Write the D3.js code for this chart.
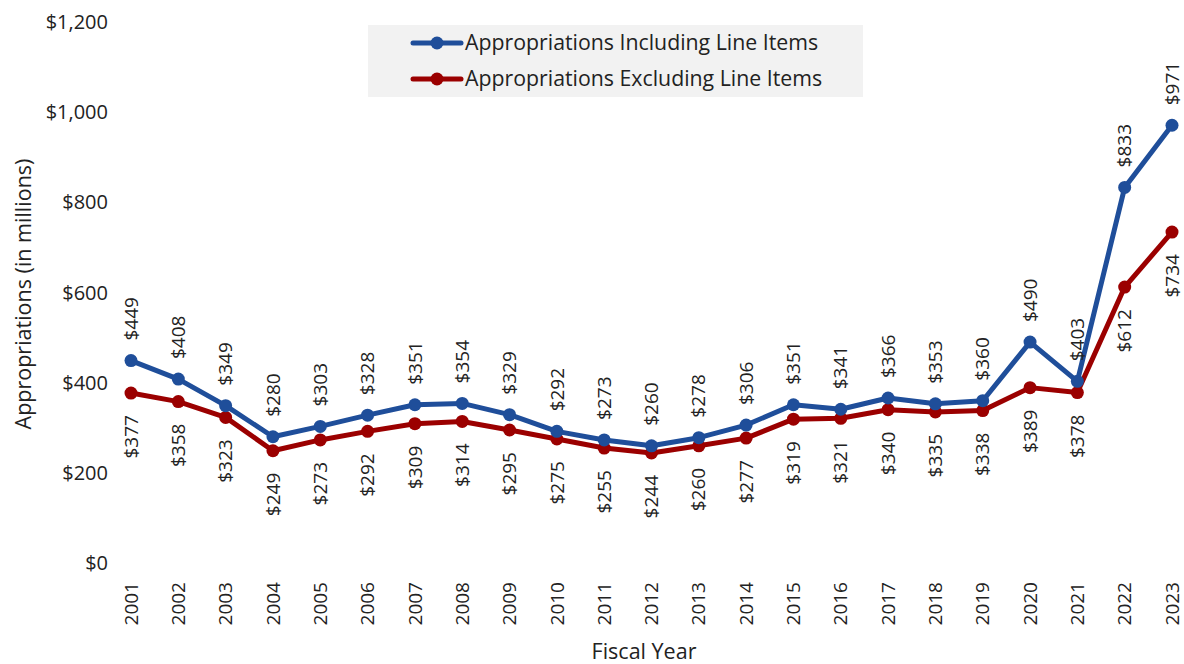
<!DOCTYPE html>
<html>
<head>
<meta charset="utf-8">
<script src="https://cdn.jsdelivr.net/npm/d3@7"></script>
<style>
  body { margin: 0; background: #fff; }
  text { font-family: "Open Sans", Lato, sans-serif; fill: #222; }
</style>
</head>
<body>
<div id="chart"></div>
<script>
const width = 1184;
const height = 664;

const blue = '#1f4e9a';
const red = '#9b0000';

// data
var years = [2001, 2002, 2003, 2004, 2005, 2006, 2007, 2008, 2009, 2010, 2011, 2012,
             2013, 2014, 2015, 2016, 2017, 2018, 2019, 2020, 2021, 2022, 2023];
var incl = [449, 408, 349, 280, 303, 328, 351, 354, 329, 292, 273, 260,
            278, 306, 351, 341, 366, 353, 360, 490, 403, 833, 971];
var excl = [377, 358, 323, 249, 273, 292, 309, 314, 295, 275, 255, 244,
            260, 277, 319, 321, 340, 335, 338, 389, 378, 612, 734];
var yTicks = [0, 200, 400, 600, 800, 1000, 1200];
var seriesNames = ['Appropriations Including Line Items', 'Appropriations Excluding Line Items'];

var svg = d3.select('#chart')
    .append('svg')
    .attr('width', width)
    .attr('height', height);

var xScale = d3.scalePoint()
    .domain(years)
    .range([131, 1172]);
var yScale = d3.scaleLinear()
    .domain([0, 1200])
    .range([563, 22]);

var fmt = d3.format(',');

// y tick labels (no axis line)
svg.append('g')
    .selectAll('.ytick')
    .data(yTicks)
    .enter()
    .append('text')
    .attr('class', 'ytick')
    .attr('x', 108)
    .attr('y', function(d){ return yScale(d); })
    .attr('dy', '0.35em')
    .attr('text-anchor', 'end')
    .style('font-size', '20px')
    .text(function(d){ return '$' + fmt(d); });

// x tick labels, rotated
svg.append('g')
    .selectAll('.xtick')
    .data(years)
    .enter()
    .append('text')
    .attr('class', 'xtick')
    .attr('transform', function(d){ return 'translate(' + xScale(d) + ',582) rotate(-90)'; })
    .attr('dy', '0.35em')
    .attr('text-anchor', 'end')
    .style('font-size', '19px')
    .text(function(d){ return d; });

// axis titles
svg.append('text')
    .attr('transform', 'translate(23,294) rotate(-90)')
    .attr('dy', '0.35em')
    .attr('text-anchor', 'middle')
    .style('font-size', '21.5px')
    .text('Appropriations (in millions)');
svg.append('text')
    .attr('x', 644)
    .attr('y', 651)
    .attr('dy', '0.35em')
    .attr('text-anchor', 'middle')
    .style('font-size', '21.5px')
    .text('Fiscal Year');

var series = [
    {name: seriesNames[0], values: incl, color: blue, above: true},
    {name: seriesNames[1], values: excl, color: red, above: false}
];

var line = d3.line()
    .x(function(d, i){ return xScale(years[i]); })
    .y(function(d){ return yScale(d); });

// draw red first so blue sits on top
series.slice().reverse().forEach(function(s){
    var g = svg.append('g');
    g.append('path')
        .attr('d', line(s.values))
        .attr('fill', 'none')
        .attr('stroke', s.color)
        .attr('stroke-width', 5)
        .attr('stroke-linejoin', 'round');
    g.selectAll('circle')
        .data(s.values)
        .enter()
        .append('circle')
        .attr('cx', function(d, i){ return xScale(years[i]); })
        .attr('cy', function(d){ return yScale(d); })
        .attr('r', 6.5)
        .attr('fill', s.color);
});

// value labels
series.forEach(function(s){
    svg.append('g')
        .selectAll('text')
        .data(s.values)
        .enter()
        .append('text')
        .attr('transform', function(d, i){
            var y = yScale(d) + (s.above ? -20 : 22);
            return 'translate(' + xScale(years[i]) + ',' + y + ') rotate(-90)';
        })
        .attr('dy', '0.35em')
        .attr('text-anchor', s.above ? 'start' : 'end')
        .style('font-size', '19px')
        .text(function(d){ return '$' + d; });
});

// legend
var legend = svg.append('g');
legend.append('rect')
    .attr('x', 368)
    .attr('y', 25)
    .attr('width', 495)
    .attr('height', 72)
    .attr('fill', '#f2f2f2');
series.forEach(function(s, i){
    var ly = 43 + i * 36;
    legend.append('line')
        .attr('x1', 413).attr('x2', 461)
        .attr('y1', ly).attr('y2', ly)
        .attr('stroke', s.color)
        .attr('stroke-width', 5)
        .attr('stroke-linecap', 'round');
    legend.append('circle')
        .attr('cx', 437).attr('cy', ly)
        .attr('r', 6.5)
        .attr('fill', s.color);
    legend.append('text')
        .attr('x', 465)
        .attr('y', ly)
        .attr('dy', '0.35em')
        .style('font-size', '21.3px')
        .text(s.name);
});
</script>
</body>
</html>
